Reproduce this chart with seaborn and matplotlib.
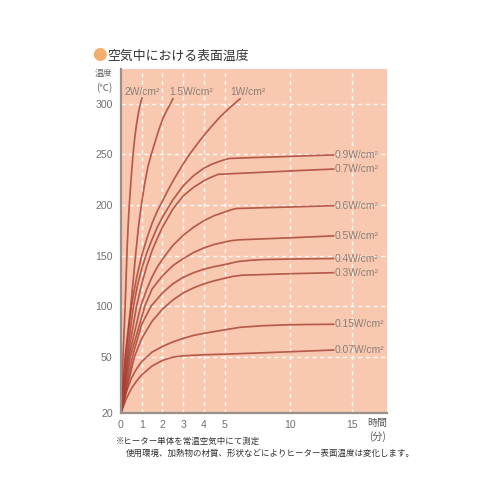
import numpy as np
import pandas as pd
import matplotlib
matplotlib.use("Agg")
import matplotlib.pyplot as plt
import seaborn as sns

# ---------------- data (time in minutes, surface temperature in degC) ----------------
labels = ["2W/cm²", "1.5W/cm²", "1W/cm²", "0.9W/cm²", "0.7W/cm²", "0.6W/cm²",
          "0.5W/cm²", "0.4W/cm²", "0.3W/cm²", "0.15W/cm²", "0.07W/cm²"]

t_2w = [0, 0.1, 0.2, 0.3, 0.35, 0.4, 0.46, 0.52, 0.58, 0.66, 0.75, 0.84, 0.93, 1.02]
T_2w = [20, 50, 100, 160, 182, 200, 218, 235, 250, 266, 280, 291, 300, 306]

t_15w = [0, 0.2, 0.47, 0.6, 0.72, 0.84, 0.98, 1.15, 1.3, 1.46, 1.65, 1.85, 2.05, 2.22, 2.38, 2.5]
T_15w = [20, 50, 100, 128, 154, 178, 200, 222, 238, 250, 263, 276, 287, 294, 300, 305]

t_1w = [0, 0.22, 0.5, 0.75, 1.0, 1.25, 1.5, 1.75, 2.0, 2.3, 2.6, 2.95, 3.3, 3.81, 4.29, 4.77,
        5.41, 6.17]
T_1w = [20, 50, 100, 128, 150, 167, 182, 194, 204, 216, 227, 239, 250, 264, 276, 287,
        296.5, 305]

t_09w = [0, 0.28, 0.6, 0.8, 1.0, 1.25, 1.5, 1.75, 2.0, 2.5, 3.0, 3.5, 4.0, 4.4, 4.8, 5.1, 5.38,
         7.0, 9.0, 11.0, 13.5]
T_09w = [20, 50, 100, 121, 137, 153, 166, 178, 188, 205, 219, 229, 236.5, 240.5, 243.5, 245.2, 246,
         246.8, 247.6, 248.5, 249.5]

t_07w = [0, 0.33, 0.75, 1.0, 1.25, 1.5, 1.75, 2.0, 2.5, 3.0, 3.5, 4.0, 4.35, 4.68,
         7.0, 9.0, 11.0, 13.5]
T_07w = [20, 50, 100, 122, 140, 155, 167, 178, 196, 209, 217.5, 224, 227.5, 230.3,
         231.8, 233, 234.2, 235.5]

t_06w = [0, 0.38, 0.95, 1.25, 1.5, 1.75, 2.0, 2.5, 3.0, 3.5, 4.0, 4.5, 5.0, 5.5, 5.9, 8.0, 10.0, 13.5]
T_06w = [20, 50, 100, 117, 129, 138.5, 146.5, 160, 170, 178, 184.5, 189.5, 193, 195.3, 196.5,
         197.3, 198, 199.3]

t_05w = [0, 0.45, 1.15, 1.5, 2.0, 2.5, 3.0, 3.5, 4.0, 4.5, 5.0, 5.5, 6.1, 8.0, 10.0, 13.5]
T_05w = [20, 50, 100, 117, 130, 140, 147, 153, 157.5, 161, 163.3, 164.7, 165.5, 166.5, 167.5, 169.4]

t_04w = [0, 0.55, 1.0, 1.45, 2.0, 2.5, 3.0, 3.5, 4.0, 4.5, 5.0, 6.0, 7.0, 8.0, 10.0, 13.5]
T_04w = [20, 50, 82, 100, 113, 122, 128.5, 133, 136.5, 139, 141, 144, 145.3, 146, 146.5, 147]

t_03w = [0, 0.65, 1.0, 1.5, 2.0, 2.5, 3.0, 3.5, 4.0, 4.5, 5.0, 5.6, 6.3, 8.0, 10.0, 13.5]
T_03w = [20, 50, 68, 85, 97, 106, 113, 118, 122, 125, 127.5, 129.3, 130.5, 131.2, 132, 133]

t_015w = [0, 0.25, 0.5, 0.75, 1.0, 1.5, 2.0, 2.5, 3.0, 3.5, 4.0, 5.0, 6.2, 8.0, 10.0, 12.0, 13.5]
T_015w = [20, 31, 38.5, 43.5, 47.4, 54.5, 60, 64.5, 68, 71, 73, 76.5, 79, 80.6, 81.5, 81.8, 82]

t_007w = [0, 0.25, 0.5, 0.75, 1.0, 1.5, 2.0, 2.5, 3.0, 4.0, 5.0, 7.0, 10.0, 13.5]
T_007w = [20, 27.5, 33, 37, 40.3, 45, 48, 49.7, 50.8, 51.8, 52.4, 53.3, 54.8, 56.5]

x_ticks = [0, 1, 2, 3, 4, 5, 10, 15]
y_ticks = [20, 50, 100, 150, 200, 250, 300]

series_t = [t_2w, t_15w, t_1w, t_09w, t_07w, t_06w, t_05w, t_04w, t_03w, t_015w, t_007w]
series_T = [T_2w, T_15w, T_1w, T_09w, T_07w, T_06w, T_05w, T_04w, T_03w, T_015w, T_007w]

rows = []
for name, ts, Ts in zip(labels, series_t, series_T):
    for a, b in zip(ts, Ts):
        rows.append({"curve": name, "t": a, "T": b})
df = pd.DataFrame(rows)

# ---------------- piecewise axis scales (as in the original chart) ----------------
_xp = np.array([-10, 0, 5, 10, 15, 40], dtype=float)
_xf = np.array([-10, 0, 5, 8.15, 11.14, 26.14])
def xfwd(v):
    return np.interp(v, _xp, _xf)
def xinv(v):
    return np.interp(v, _xf, _xp)

_yp = np.array([-100, 20, 50, 1000], dtype=float)
_yf = np.array([-125.8, -5.8, 50, 1000])
def yfwd(v):
    return np.interp(v, _yp, _yf)
def yinv(v):
    return np.interp(v, _yf, _yp)

# ---------------- figure ----------------
jp = ["Noto Sans CJK JP", "DejaVu Sans"]
lat = ["Liberation Sans", "Noto Sans CJK JP", "DejaVu Sans"]
plt.rcParams["font.family"] = jp

fig = plt.figure(figsize=(5, 5), dpi=100)
fig.patch.set_facecolor("white")
ax = fig.add_axes([0.242, 0.174, 0.532, 0.688])
ax.set_facecolor("#f8c9b0")
ax.set_xscale("function", functions=(xfwd, xinv))
ax.set_yscale("function", functions=(yfwd, yinv))

ax.set_xlim(0, 17.8)
ax.set_ylim(20, 334.5)

# dashed white grid lines at the tick values
for xv in x_ticks[1:]:
    ax.axvline(xv, color="white", linestyle=(0, (3, 2.5)), linewidth=1.0, alpha=0.9, zorder=0.5)
for yv in y_ticks[1:]:
    ax.axhline(yv, color="white", linestyle=(0, (3, 2.5)), linewidth=1.0, alpha=0.9, zorder=0.5)

sns.lineplot(data=df, x="t", y="T", units="curve", estimator=None, sort=False,
             color="#a93e32", alpha=0.8, linewidth=1.25, ax=ax, legend=False, zorder=2)

ax.set_xlim(0, 17.8)
ax.set_ylim(20, 334.5)
ax.set_xticks(x_ticks)
ax.set_xticklabels([str(v) for v in x_ticks])
ax.set_yticks(y_ticks)
ax.set_yticklabels([str(v) for v in y_ticks])
ax.minorticks_off()
ax.grid(False)
ax.tick_params(length=0, labelsize=7.6, colors="#707070", pad=5)
ax.tick_params(axis="y", pad=6)
for lab in ax.get_xticklabels() + ax.get_yticklabels():
    lab.set_family(lat)
ax.set_xlabel("")
ax.set_ylabel("")

for s in ["top", "right"]:
    ax.spines[s].set_visible(False)
for s in ["left", "bottom"]:
    ax.spines[s].set_color("#9a8f8a")
    ax.spines[s].set_linewidth(1.6)
    ax.spines[s].set_zorder(3)

# right-hand labels at the end of each plateau curve
for name, ts, Ts in zip(labels[3:], series_t[3:], series_T[3:]):
    ax.text(ts[-1] + 0.1, Ts[-1], name, ha="left", va="center",
            fontsize=7.4, color="#8a7e78", family=lat)

# top labels of the steep curves
top_pos_x = [1.04, 3.4, 6.75]
for name, xp in zip(labels[:3], top_pos_x):
    ax.text(xp, 311.5, name, ha="center", va="center",
            fontsize=7.4, color="#8a7e78", family=lat)

# title and axis captions
fig.text(92 / 500, 1 - 56 / 500, "●", color="#f5ad6e", fontsize=10.5,
         ha="left", va="center", family=jp)
fig.text(107 / 500, 1 - 56 / 500, "空気中における表面温度", color="#333333",
         fontsize=9.3, ha="left", va="center", family=jp)
fig.text(104 / 500, 1 - 73 / 500, "温度", color="#666666", fontsize=6.4,
         ha="center", va="center", family=jp)
fig.text(104 / 500, 1 - 88 / 500, "(℃)", color="#666666", fontsize=7,
         ha="center", va="center", family=jp)
fig.text(377 / 500, 1 - 423 / 500, "時間", color="#555555", fontsize=7.2,
         ha="center", va="center", family=jp)
fig.text(377 / 500, 1 - 437 / 500, "(分)", color="#555555", fontsize=7.2,
         ha="center", va="center", family=jp)
fig.text(116 / 500, 1 - 441 / 500, "※ヒーター単体を常温空気中にて測定", color="#333333",
         fontsize=6.1, ha="left", va="center", family=jp)
fig.text(126 / 500, 1 - 453 / 500,
         "使用環境、加熱物の材質、形状などによりヒーター表面温度は変化します。",
         color="#333333", fontsize=6.1, ha="left", va="center", family=jp)

fig.savefig("out.png", dpi=100)
